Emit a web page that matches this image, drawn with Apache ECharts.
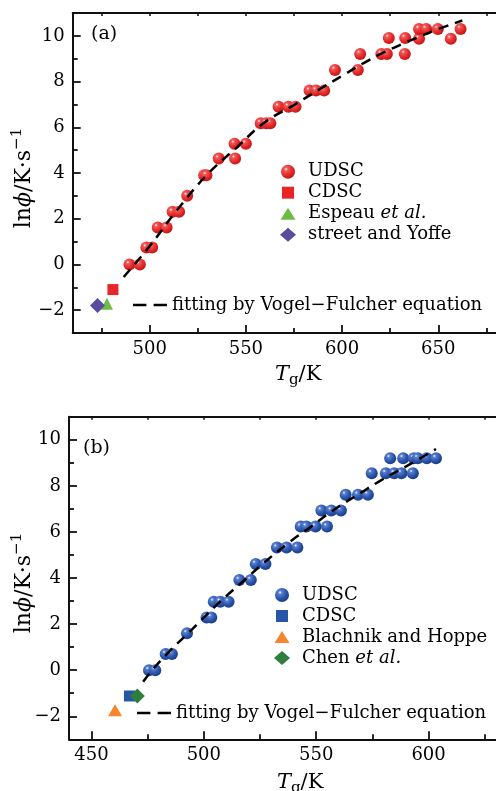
<!DOCTYPE html>
<html><head><meta charset="utf-8">
<script src="https://cdn.jsdelivr.net/npm/echarts@6/dist/echarts.min.js"></script>
<style>html,body{margin:0;padding:0;background:#fff}#c{width:496px;height:791px}</style>
</head><body><div id="c"></div>
<script>
const FONT = 'DejaVu Serif';

// ---------- Panel (a) ----------
const aUdscT  = [489.5, 494.9, 498.3, 501.3, 504.2, 508.8, 511.9, 515.3, 519.5, 528.3, 529.5, 535.9, 544.4, 544.1, 550.0, 557.7, 560.6, 562.7, 567.0, 572.1, 575.8, 583.1, 586.5, 590.7, 596.3, 608.2, 609.4, 620.4, 623.3, 632.6, 624.3, 632.8, 640.0, 640.0, 643.7, 649.8, 656.5, 661.6];
const aUdscLn = [0, 0, 0.74, 0.74, 1.62, 1.62, 2.3, 2.3, 3.0, 3.9, 3.9, 4.63, 4.63, 5.28, 5.28, 6.18, 6.18, 6.18, 6.9, 6.9, 6.9, 7.61, 7.61, 7.61, 8.51, 8.51, 9.21, 9.21, 9.21, 9.21, 9.91, 9.91, 9.87, 10.3, 10.3, 10.3, 9.87, 10.3];
const aCdscT = [480.9], aCdscLn = [-1.10];
const aEspeauT = [477.8], aEspeauLn = [-1.72];
const aStreetT = [472.9], aStreetLn = [-1.80];
const aFitT  = [486.5, 500, 513.5, 529.5, 545, 559.5, 574.5, 588, 601, 611, 621, 631.5, 647, 662.5];
const aFitLn = [-0.55, 0.8, 2.3, 3.9, 5.1, 6.2, 6.95, 7.65, 8.3, 8.8, 9.25, 9.65, 10.2, 10.67];
const aXRange = [460, 680];
const aXMajor = [500, 550, 600, 650];
const aXMinor = [475, 525, 575, 625, 675];

// ---------- Panel (b) ----------
const bUdscT  = [475.6, 478.4, 483.0, 485.8, 492.5, 501.2, 503.3, 504.4, 507.3, 511.0, 515.8, 520.9, 523.1, 527.4, 532.5, 536.8, 541.6, 543.1, 545.6, 549.7, 554.8, 552.3, 556.7, 561.0, 563.1, 568.6, 573.0, 574.7, 581.0, 584.7, 587.9, 593.0, 582.9, 588.7, 593.4, 595.2, 599.2, 603.3];
const bUdscLn = [0, 0, 0.7, 0.7, 1.6, 2.29, 2.29, 2.97, 2.97, 2.97, 3.91, 3.91, 4.61, 4.61, 5.32, 5.32, 5.32, 6.23, 6.23, 6.23, 6.23, 6.93, 6.93, 6.93, 7.61, 7.61, 7.61, 8.55, 8.55, 8.55, 8.55, 8.55, 9.2, 9.2, 9.2, 9.2, 9.2, 9.2];
const bCdscT = [466.9], bCdscLn = [-1.12];
const bBlachT = [460.5], bBlachLn = [-1.74];
const bChenT = [470.4], bChenLn = [-1.12];
const bFitT  = [473, 477, 485, 493, 507, 518, 526, 538, 548, 557, 571.5, 579, 592, 603.3];
const bFitLn = [-0.5, 0, 0.85, 1.6, 2.95, 3.9, 4.6, 5.55, 6.25, 6.9, 7.8, 8.25, 8.95, 9.6];
const bXRange = [440, 630];
const bXMajor = [450, 500, 550, 600];
const bXMinor = [475, 525, 575, 625];

// shared y
const yRange = [-3, 11];
const yMajor = [-2, 0, 2, 4, 6, 8, 10];
const yMinor = [-1, 1, 3, 5, 7, 9];

const zip = (xs, ys) => xs.map((x, i) => [x, ys[i]]);

function sphere(c0, c1, c2) {
  return {type: 'radial', x: 0.36, y: 0.32, r: 0.72, colorStops: [
    {offset: 0, color: '#ffffff'}, {offset: 0.18, color: c0},
    {offset: 0.6, color: c1}, {offset: 1, color: c2}]};
}
const redSphere = sphere('#f25a5a', '#e52a2a', '#c01414');
const blueSphere = sphere('#5a7fd0', '#2b55ab', '#183c86');

const AXC = '#111';
function xAxes(g, range, maj, min) {
  const base = {gridIndex: g, type: 'value', min: range[0], max: range[1], splitLine: {show: false}};
  return [
    Object.assign({}, base, {position: 'bottom',
      axisLine: {onZero: false, lineStyle: {color: AXC, width: 2}},
      axisTick: {inside: true, length: 8, customValues: maj, lineStyle: {color: AXC, width: 1.8}},
      axisLabel: {customValues: maj, fontFamily: FONT, fontSize: 18, color: '#000', margin: 7}}),
    Object.assign({}, base, {position: 'bottom', axisLine: {onZero: false, show: false},
      axisTick: {inside: true, length: 5, customValues: min, lineStyle: {color: AXC, width: 1.8}},
      axisLabel: {show: false}}),
    Object.assign({}, base, {position: 'top',
      axisLine: {onZero: false, lineStyle: {color: AXC, width: 2}},
      axisTick: {inside: true, length: 3, customValues: maj.concat(min), lineStyle: {color: AXC, width: 1.5}},
      axisLabel: {show: false}})
  ];
}
function yAxes(g) {
  const base = {gridIndex: g, type: 'value', min: yRange[0], max: yRange[1], splitLine: {show: false}, position: 'left'};
  return [
    Object.assign({}, base, {
      axisLine: {onZero: false, lineStyle: {color: AXC, width: 2}},
      axisTick: {inside: true, length: 8, customValues: yMajor, lineStyle: {color: AXC, width: 1.8}},
      axisLabel: {customValues: yMajor, fontFamily: FONT, fontSize: 18, color: '#000', margin: 8,
        formatter: v => (v < 0 ? '\u2212' + Math.abs(v) : String(v))}}),
    Object.assign({}, base, {axisLine: {onZero: false, show: false},
      axisTick: {inside: true, length: 5, customValues: yMinor, lineStyle: {color: AXC, width: 1.8}},
      axisLabel: {show: false}})
  ];
}

const fitLine = {color: '#000', width: 2.5, type: [10, 7]};
function scatter(name, xi, yi, data, symbol, size, color) {
  return {name, type: 'scatter', xAxisIndex: xi, yAxisIndex: yi, data, symbol, symbolSize: size,
    itemStyle: {color, opacity: 1}, z: 3};
}
const series = [
  scatter('a:UDSC', 0, 0, zip(aUdscT, aUdscLn), 'circle', 12, redSphere),
  scatter('a:CDSC', 0, 0, zip(aCdscT, aCdscLn), 'rect', 11, '#e8262a'),
  scatter('a:Espeau et al.', 0, 0, zip(aEspeauT, aEspeauLn), 'triangle', [12, 12], '#6dbd45'),
  scatter('a:street and Yoffe', 0, 0, zip(aStreetT, aStreetLn), 'diamond', 15, '#5a4b9e'),
  {name: 'a:fit', type: 'line', xAxisIndex: 0, yAxisIndex: 0, data: zip(aFitT, aFitLn), symbol: 'none', smooth: 0.4, lineStyle: fitLine, itemStyle: {color: '#000'}, z: 5},
  scatter('b:UDSC', 3, 2, zip(bUdscT, bUdscLn), 'circle', 12, blueSphere),
  scatter('b:CDSC', 3, 2, zip(bCdscT, bCdscLn), 'rect', 11, '#2856a6'),
  scatter('b:Blachnik and Hoppe', 3, 2, zip(bBlachT, bBlachLn), 'triangle', [14, 12], '#f5862e'),
  scatter('b:Chen et al.', 3, 2, zip(bChenT, bChenLn), 'diamond', 15, '#2e7f3e'),
  {name: 'b:fit', type: 'line', xAxisIndex: 3, yAxisIndex: 2, data: zip(bFitT, bFitLn), symbol: 'none', smooth: 0.4, lineStyle: fitLine, itemStyle: {color: '#000'}, z: 5}
];

const richTxt = {
  r: {fontFamily: FONT, fontSize: 18, color: '#000', lineHeight: 21},
  i: {fontFamily: FONT, fontSize: 18, color: '#000', lineHeight: 21, fontStyle: 'italic'}
};
function legendFmt(name) {
  const t = name.slice(2);
  if (t === 'fit') return '{r|fitting by Vogel\u2212Fulcher equation}';
  const k = t.indexOf('et al.');
  if (k >= 0) return '{r|' + t.slice(0, k) + '}{i|et al.}';
  return '{r|' + t + '}';
}
const SQ = 'path://M-1,-1M0,0H12V12H0ZM13,13';
const TRI = 'path://M0,-1M7.5,0L15,12H0ZM0,13';
const DIA = 'path://M8,0L16,7L8,14L0,7Z';
const DASH2 = 'path://M0,0H13V2.5H0Z M20,0H33V2.5H20Z';
function scLegend(p, names, left, top) {
  return {orient: 'vertical', left, top, padding: 0, itemWidth: 30, itemHeight: 14, itemGap: 0,
    selectedMode: false, formatter: legendFmt,
    textStyle: {fontFamily: FONT, fontSize: 18, color: '#000', lineHeight: 21, rich: richTxt},
    data: [{name: p + names[0], icon: 'circle'}, {name: p + names[1], icon: SQ},
           {name: p + names[2], icon: TRI}, {name: p + names[3], icon: DIA}]};
}
function fitLegend(p, left, top) {
  return {left, top, padding: 0, itemWidth: 34, itemHeight: 12, selectedMode: false, formatter: legendFmt,
    textStyle: {fontFamily: FONT, fontSize: 18, color: '#000', lineHeight: 21, rich: richTxt},
    data: [{name: p + 'fit', icon: DASH2, itemStyle: {color: '#000'}}]};
}

function xTitle(x, y) {
  return {type: 'text', x, y, z: 10, style: {
    text: '{i|T}{s|g}{n|/K}', align: 'left', verticalAlign: 'middle',
    rich: {
      i: {fontFamily: FONT, fontSize: 21, fontStyle: 'italic', lineHeight: 26, fill: '#000', color: '#000'},
      s: {fontFamily: FONT, fontSize: 15, lineHeight: 15, verticalAlign: 'bottom', fill: '#000', color: '#000'},
      n: {fontFamily: FONT, fontSize: 21, lineHeight: 26, fill: '#000', color: '#000'}
    }}};
}
function yTitle(x, y) {
  return {type: 'text', x, y, rotation: Math.PI / 2, z: 10, style: {
    text: '{n|ln}{i|\u03d5}{n|/K\u00b7s}{p|\u22121}', align: 'center', verticalAlign: 'middle',
    rich: {
      n: {fontFamily: FONT, fontSize: 22, lineHeight: 28, fill: '#000', color: '#000'},
      i: {fontFamily: FONT, fontSize: 22, lineHeight: 28, fontStyle: 'italic', fill: '#000', color: '#000'},
      p: {fontFamily: FONT, fontSize: 15, lineHeight: 15, verticalAlign: 'top', fill: '#000', color: '#000'}
    }}};
}
function panelLabel(t, x, y) {
  return {type: 'text', x, y, z: 10, style: {text: t, font: '19px "DejaVu Serif"', fill: '#000', align: 'left', verticalAlign: 'middle'}};
}

const chart = echarts.init(document.getElementById('c'), null, {renderer: 'canvas'});
chart.setOption({
  animation: false,
  backgroundColor: '#fff',
  grid: [
    {left: 72.7, top: 13, right: -9, height: 320},
    {left: 69, top: 416.7, right: -7, height: 322.6}
  ],
  xAxis: [].concat(xAxes(0, aXRange, aXMajor, aXMinor), xAxes(1, bXRange, bXMajor, bXMinor)),
  yAxis: [].concat(yAxes(0), yAxes(1)),
  legend: [
    scLegend('a:', ['UDSC', 'CDSC', 'Espeau et al.', 'street and Yoffe'], 280, 161.2),
    fitLegend('a:', 133, 294.5),
    scLegend('b:', ['UDSC', 'CDSC', 'Blachnik and Hoppe', 'Chen et al.'], 274, 584.5),
    fitLegend('b:', 137, 702.5)
  ],
  graphic: [
    panelLabel('(a)', 91, 34), panelLabel('(b)', 83, 448),
    xTitle(275, 375), xTitle(277, 783),
    yTitle(24, 178), yTitle(24, 583)
  ],
  series
});
</script></body></html>
